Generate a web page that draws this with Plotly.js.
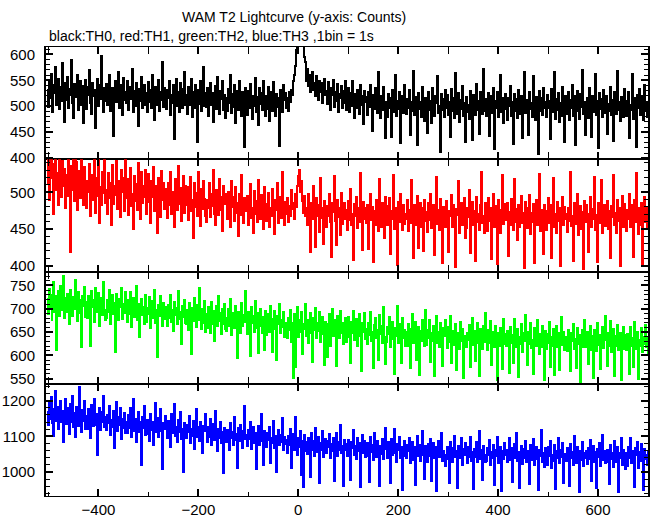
<!DOCTYPE html>
<html>
<head>
<meta charset="utf-8">
<script src="https://cdn.plot.ly/plotly-3.0.1.min.js"></script>
<style>html,body{margin:0;padding:0;background:#fff;}#chart{width:652px;height:515px;}
.scatterlayer path.js-line{shape-rendering:crispEdges;}
</style>
</head>
<body>
<div id="chart"></div>
<script>
// Light curve, time in seconds relative to trigger; values read/
const tStart = -504;
const binWidth = 2;

const th0 = [
531,498,547,515,562,509,488,540,526,575,503,519,552,494,537,511,583,528,470,545,
512,556,497,534,521,589,506,478,543,517,530,561,492,525,548,503,539,468,527,551,
495,538,522,570,507,485,544,519,531,458,526,553,500,541,513,596,520,489,535,510,
543,502,528,561,491,517,536,443,524,549,508,532,566,497,519,540,484,555,512,527,
506,548,493,522,537,514,571,488,529,501,545,518,462,533,510,557,496,524,540,503,
525,488,546,509,532,497,560,514,473,538,520,503,551,491,528,512,585,499,536,507,
494,531,515,549,483,522,506,540,437,518,553,501,527,489,544,511,497,534,565,502,
521,486,537,503,514,552,479,528,496,541,510,432,532,505,548,491,519,576,500,525,
498,536,482,517,545,503,526,470,512,539,495,557,508,486,530,514,549,492,521,477,
515,490,534,506,561,487,523,499,541,468,511,530,493,548,505,482,527,514,421,536,
508,484,529,497,543,512,476,520,501,555,489,517,463,535,504,525,492,548,510,481,
519,495,537,472,510,528,490,546,503,481,524,499,515,424,532,507,489,540,512,526,
497,516,490,528,509,531,522,548,560,577,608,640,672,700,668,655,641,625,595,585,
548,571,539,560,528,553,566,531,545,519,558,537,512,549,528,544,506,535,552,521,
530,505,547,518,493,536,521,550,498,527,511,543,488,524,515,539,496,529,507,548,
492,519,535,488,526,501,548,510,477,523,497,532,514,485,541,503,520,466,529,508,
517,484,528,498,541,506,452,522,495,535,511,487,566,502,478,519,493,537,505,438,
508,480,523,496,515,441,532,489,503,561,482,511,494,527,430,505,520,487,540,498,
486,514,497,531,445,509,490,568,483,518,501,425,526,494,509,480,537,498,472,515,
504,448,528,492,511,468,536,495,481,519,506,559,487,500,412,523,493,513,479,531,
497,522,483,509,440,533,491,515,478,564,502,486,525,470,512,494,539,481,506,431,
518,489,503,476,530,497,436,521,508,484,542,493,510,447,527,499,485,571,490,514,
481,507,526,442,498,519,487,535,418,511,496,528,479,504,560,488,515,467,500,523,
495,473,516,501,539,482,508,428,524,491,513,477,532,498,485,520,439,509,565,487,
512,488,444,527,494,506,480,558,499,473,518,503,409,529,491,515,484,536,497,509,
479,521,496,510,437,533,488,502,566,476,514,492,525,469,507,481,538,495,432,519,
503,485,528,474,512,497,541,482,519,426,506,530,490,475,523,498,569,486,509,445,
492,516,478,535,501,440,520,489,507,562,483,511,419,526,495,513,479,532,500,487,
520,446,505,491,538,483,512,433,527,498,485,567,493,509,472,518,502,480,534,496,
481,510,527,438,503,492,563,476,515,488,422,522,497,533,484,506,519,473,540,491,
508,479,497
];

const th1 = [
512,548,489,531,556,558,520,471,539,551,503,526,482,560,515,494,543,509,532,478,
523,495,547,510,418,536,503,552,488,561,541,476,507,529,492,555,514,483,534,499,
478,515,501,539,467,524,490,508,546,472,519,495,553,458,507,483,527,499,549,486,
503,471,526,492,512,455,537,484,509,496,542,477,515,489,466,530,501,519,474,545,
492,518,469,505,533,481,497,450,522,488,511,476,540,499,463,527,486,508,494,531,
470,501,525,487,458,516,493,535,474,509,482,445,520,498,466,529,489,512,477,504,
496,465,513,482,527,470,500,488,453,518,491,476,536,484,506,461,495,522,472,509,
483,507,462,495,521,474,489,438,512,480,499,467,528,486,454,505,477,516,491,468,
459,490,478,512,466,497,481,530,471,455,503,487,469,518,476,493,447,509,484,498,
488,463,501,476,452,515,480,494,461,507,472,486,440,498,469,523,477,458,492,481,
474,495,456,483,511,465,479,445,502,470,488,459,517,476,463,496,481,450,507,472,
461,484,499,452,478,467,505,470,443,489,476,512,458,481,494,465,528,473,455,487,
470,492,459,481,468,503,477,486,463,497,480,509,522,531,501,515,488,472,495,468,
479,455,497,470,418,486,463,509,474,425,492,467,482,446,519,465,478,430,488,471,
452,481,468,497,459,412,485,473,522,461,428,490,466,479,442,499,457,474,486,463,
476,449,488,462,505,455,471,408,484,467,493,451,479,460,526,470,421,487,463,478,
458,483,423,471,497,462,480,405,474,456,490,466,447,518,469,452,485,476,438,494,
481,455,468,492,416,475,463,524,450,479,466,401,487,460,498,472,448,483,457,471,
464,490,447,476,458,517,469,411,482,455,473,495,424,467,486,452,478,420,489,461,
473,446,485,462,497,451,470,482,414,466,521,457,476,448,491,463,403,480,469,453,
488,459,419,474,467,496,452,483,461,398,477,469,516,445,472,486,455,464,492,438,
451,478,466,503,417,469,487,456,475,406,494,460,471,449,482,527,458,468,444,485,
470,447,492,461,479,409,466,498,453,481,464,402,489,472,445,476,523,457,468,484,
462,485,413,473,456,491,469,448,518,460,477,435,483,452,466,495,458,472,397,487,
478,451,466,496,443,472,460,484,404,470,489,455,463,525,447,476,459,416,482,467,
449,474,492,458,483,410,466,520,452,471,444,487,461,478,400,468,493,455,480,463,
471,446,479,461,528,454,468,407,485,457,475,498,442,466,481,450,473,396,488,460,
483,459,418,470,494,452,477,464,521,448,469,405,486,458,473,517,445,467,482,454,
462,488,450,475,411,481,466,524,455,472,444,490,461,478,399,469,495,453,484,470,
447,476,463,497,452,482,468,412,490,459,526,465,443,478,456,486,402,471,493,460,
478,452,469
];

const th2 = [
721,689,743,702,730,676,715,758,694,727,612,709,738,685,749,712,697,771,680,724,
693,732,708,667,741,716,684,726,699,762,711,673,735,690,719,618,728,705,746,683,
714,680,727,696,621,738,703,719,671,745,692,708,733,664,700,723,686,757,698,676,
681,719,694,740,667,706,729,688,712,607,731,697,676,722,703,744,679,710,691,735,
706,672,718,689,736,661,700,724,683,697,748,676,711,640,693,720,686,703,668,729,
672,701,688,725,659,694,716,680,741,670,698,597,709,684,727,691,664,712,679,703,
694,663,709,681,729,672,698,652,715,686,701,668,738,677,693,625,705,683,719,670,
668,697,655,712,680,603,702,673,724,690,661,708,676,745,684,657,699,670,716,651,
689,659,703,676,648,714,667,695,631,681,706,662,727,673,690,645,699,668,711,656,
652,681,699,664,721,643,675,690,658,707,668,594,694,677,649,713,662,686,671,738,
677,645,693,660,598,703,669,684,651,716,658,690,605,675,700,662,647,683,612,695,
643,672,688,651,707,664,607,679,696,656,589,684,667,711,648,675,660,692,639,670,
662,637,681,654,698,629,670,552,688,575,665,703,640,676,651,694,603,668,657,710,
641,675,626,663,690,648,585,681,655,702,637,669,652,694,628,660,683,645,579,672,
668,596,654,689,621,662,700,641,676,650,578,685,657,637,695,648,670,625,661,681,
629,661,682,640,584,672,648,695,633,657,677,619,664,688,642,566,670,651,690,636,
657,624,670,643,692,631,651,572,666,680,637,654,590,687,645,662,627,703,640,581,
628,661,645,683,617,652,672,635,561,659,641,707,626,649,668,583,680,637,655,621,
650,619,667,633,573,657,689,627,645,672,590,640,661,558,653,631,676,645,620,698,
623,654,638,676,586,647,630,662,556,641,685,626,650,617,669,636,578,658,641,675,
645,616,660,628,684,584,639,653,622,667,569,636,649,614,672,631,656,551,642,620,
617,648,632,665,574,639,680,623,652,588,641,670,626,555,657,635,614,662,628,690,
641,612,655,627,673,579,636,650,618,664,630,548,647,621,659,637,571,677,624,645,
619,653,632,562,661,626,643,584,678,634,617,656,553,640,625,667,608,649,631,686,
638,580,651,624,669,615,633,559,658,641,620,675,629,603,646,618,662,635,546,653,
614,645,627,672,575,639,621,657,557,633,664,617,648,568,640,682,622,651,611,637,
640,609,654,622,566,647,630,668,613,636,573,659,624,644,543,632,655,617,676,628,
618,651,581,637,663,612,641,552,655,628,610,670,623,643,570,638,660,615,632,685,
634,577,648,619,674,608,630,657,556,642,621,665,611,636,649,548,627,661,614,643,
611,645,626,561,660,619,638,574,671,628,613,650,549,634,621,658,607,640,625,666,
617,639,603
];

const th3 = [
1168,1131,1192,1149,1210,1137,1176,1102,1161,1226,1144,1183,1120,1157,1198,1139,1172,1085,1163,1204,
1135,1179,1152,1107,1190,1141,1214,1126,1165,1098,1183,1150,1129,1238,1156,1112,1174,1143,1199,1120,
1158,1121,1176,1139,1094,1187,1146,1128,1205,1133,1162,1048,1151,1180,1117,1168,1140,1212,1125,1153,
1119,1160,1138,1185,1104,1147,1127,1171,1066,1142,1196,1115,1153,1131,1178,1092,1149,1124,1165,1110,
1141,1108,1159,1122,1180,1097,1135,1203,1116,1148,1085,1130,1167,1112,1139,1019,1155,1124,1186,1103,
1107,1146,1125,1088,1163,1118,1140,1076,1132,1192,1111,1151,1099,1127,1175,1114,1008,1138,1120,1158,
1129,1096,1142,1117,1070,1161,1108,1133,1189,1101,1125,1083,1147,1112,1168,1092,1121,1001,1136,1110,
1095,1131,1112,1158,1081,1120,1102,1144,1064,1117,1176,1098,1126,1088,1139,1106,1052,1130,1115,1163,
1118,1085,1127,1099,1149,1076,1110,1134,1091,1171,1104,1058,1121,1096,1140,1082,1113,996,1124,1107,
1083,1119,1101,1062,1137,1094,1112,1075,1155,1090,1107,1010,1124,1086,1131,1099,1068,1116,1185,1092,
1105,1072,1118,1093,1141,1064,1100,1126,1081,1110,1008,1095,1130,1077,1108,1162,1088,1021,1114,1097,
1071,1109,1090,1127,1026,1096,1080,1143,1066,1101,999,1092,1118,1075,1105,1083,1150,1062,1097,1078,
1090,1054,1101,1076,1121,1012,1085,1107,1062,1153,1079,1048,1096,1069,1114,991,1087,958,1104,1058,
1083,1050,1095,1071,987,1109,1062,1087,1045,1124,1074,1056,1098,969,1080,1063,1115,1041,1077,1092,
1052,1088,1070,1106,1039,1079,1058,1096,975,1067,1110,1046,1085,1061,1132,1054,1074,962,1090,1063,
1078,1044,1091,1060,979,1083,1067,1117,1049,1073,1036,1095,1058,1081,957,1070,1104,1053,1086,1041,
1046,1082,1063,972,1097,1055,1076,1034,1110,1061,1042,1088,1068,960,1074,1051,1093,1037,1065,1124,
1071,1038,1084,1059,968,1092,1047,1066,1121,1053,1029,1078,1061,1099,1040,1070,951,1057,1086,1044,
1040,1075,1058,1096,1026,1062,1083,1035,1069,964,1052,1101,1045,1077,1031,1064,1114,1049,981,1072,
1063,1029,1078,1046,1092,976,1057,1081,1038,1069,948,1052,1088,1041,1066,1109,1032,1060,1047,1017,
1036,1071,1049,970,1085,1055,1027,1067,1102,1043,1060,955,1074,1039,1058,1094,1021,1065,1048,1080,
1059,1024,1070,1043,1097,1032,1055,952,1064,1041,1083,1028,1050,1116,1037,1062,978,1073,1047,1029,
1030,1068,1047,1089,1019,1056,1038,1075,963,1061,1044,1099,1025,1052,1070,947,1058,1036,1081,1049,
1062,1027,1051,1094,1035,1066,971,1048,1079,1040,1108,1031,1057,954,1045,1073,1022,1064,1039,1086,
1028,1060,1041,966,1077,1049,1033,1092,1020,1055,1071,1037,950,1063,1046,1118,1029,1052,1014,1068,
1055,1021,1069,1044,1088,1010,1047,1032,1075,953,1058,1039,1096,1026,1062,1043,1081,969,1050,1034,
1031,1066,1045,961,1079,1038,1057,1019,1101,1042,1024,1070,1049,945,1060,1035,1085,1016,1053,1040,
1058,1022,1067,1036,1091,974,1048,1073,1029,1055,956,1064,1041,1082,1018,1046,1105,1033,1059,1025,
1027,1063,1044,967,1076,1037,1054,1015,1087,1043,1028,1069,944,1052,1039,1094,1021,1061,1045,1008,
1052,1018,1071,1040,1095,1026,1060,1034,958,1066,1047,1083,1012,1055,1030,1078,1043,949,1064,1037,
1049,1021,1058
];

const seriesNames = ['TH0', 'TH1', 'TH2', 'TH3'];
const seriesColors = ['#000000', '#ff0000', '#00ff00', '#0000ff'];
const titleText = 'WAM T2 Lightcurve (y-axis: Counts)';
const subtitleText = 'black:TH0, red:TH1, green:TH2, blue:TH3 ,1bin = 1s';
const xTickVals = [-400, -200, 0, 200, 400, 600];

const allSeries = [th0, th1, th2, th3];
const yRefs = ['y', 'y2', 'y3', 'y4'];
const traces = allSeries.map((vals, k) => {
  const xs = vals.map((_, i) => tStart + i * binWidth);
  return {
    x: xs, y: vals, type: 'scatter', mode: 'lines',
    line: {color: seriesColors[k], width: 2, shape: 'hv'},
    name: seriesNames[k], xaxis: 'x', yaxis: yRefs[k], hoverinfo: 'skip'
  };
});

const FONT = 'Liberation Sans, Arial, Helvetica, sans-serif';
function yAx(domain, range, dtick, minorDtick) {
  return {
    domain: domain, range: range, anchor: 'x',
    showgrid: false, zeroline: false,
    showline: true, linecolor: '#000', linewidth: 2, mirror: 'allticks',
    ticks: 'inside', ticklen: 7, tickwidth: 2, tickcolor: '#000',
    dtick: dtick, tick0: 0,
    minor: {dtick: minorDtick, ticks: 'inside', ticklen: 4, tickwidth: 1, tickcolor: '#000', showgrid: false},
    tickfont: {family: FONT, size: 15, color: '#000'},
    ticklabelstandoff: 6
  };
}

const layout = {
  width: 652, height: 515,
  margin: {l: 46, r: 4, t: 47, b: 19, pad: 0},
  paper_bgcolor: '#fff', plot_bgcolor: '#fff',
  showlegend: false,
  xaxis: {
    range: [-505, 700], anchor: 'y4',
    showgrid: false, zeroline: false,
    showline: true, linecolor: '#000', linewidth: 1, mirror: 'allticks',
    ticks: 'inside', ticklen: 7, tickwidth: 2, tickcolor: '#000',
    tickmode: 'array', tickvals: xTickVals,
    minor: {dtick: 100, tick0: 0, ticks: 'inside', ticklen: 4, tickwidth: 1, tickcolor: '#000', showgrid: false},
    tickfont: {family: FONT, size: 15, color: '#000'},
    ticklabelstandoff: 0
  },
  yaxis: yAx([0.75, 1], [398, 614], 50, 10),
  yaxis2: yAx([0.5, 0.75], [392, 545], 50, 10),
  yaxis3: yAx([0.25, 0.5], [539, 780], 50, 10),
  yaxis4: yAx([0, 0.25], [933, 1247], 100, 20),
  annotations: [
    {text: titleText, xref: 'paper', yref: 'paper', x: (180 - 46) / 602, y: 1.067,
     xanchor: 'left', yanchor: 'middle', showarrow: false,
     font: {family: FONT, size: 14, color: '#000'}},
    {text: subtitleText, xref: 'paper', yref: 'paper', x: 0.002, y: 1.0245,
     xanchor: 'left', yanchor: 'middle', showarrow: false,
     font: {family: FONT, size: 14, color: '#000'}}
  ]
};

Plotly.newPlot('chart', traces, layout, {staticPlot: true, displayModeBar: false});
</script>
</body>
</html>
